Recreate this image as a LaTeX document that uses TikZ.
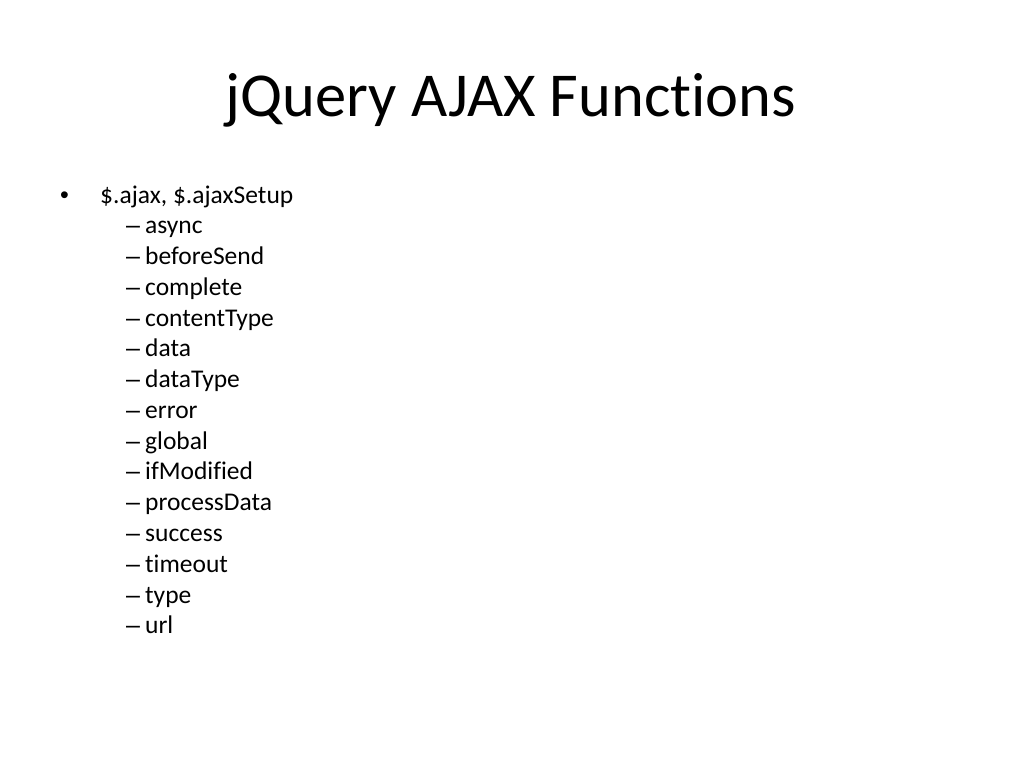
\documentclass[tikz,border=0pt]{standalone}
\usepackage{fontspec}
\setmainfont[Ligatures={NoCommon}]{Carlito}
\newfontfamily\symfont{Liberation Sans}
\begin{document}
\begin{tikzpicture}[x=1pt,y=-1pt,
  titlestyle/.style={anchor=base,inner sep=0pt,font=\fontsize{62.5}{66}\selectfont},
  bodystyle/.style={anchor=base west,inner sep=0pt,font=\fontsize{25.5}{30}\selectfont},
  markstyle/.style={anchor=base west,inner sep=0pt,font=\fontsize{25}{30}\symfont}]
\useasboundingbox[fill=white] (0,0) rectangle (1024,768);
\node[titlestyle] (title) at (511,116) {jQuery AJAX Functions};
\node[markstyle] (b0) at (60,203) {•};
\node[bodystyle] (t0) at (100,203) {\$.ajax, \$.ajaxSetup};
\foreach \txt [count=\i] in {async,beforeSend,complete,contentType,data,dataType,error,global,ifModified,processData,success,timeout,type,url}{
  \node[markstyle] (d\i) at (126,203+\i*30.77) {–};
  \node[bodystyle] (s\i) at (145,203+\i*30.77) {\txt};
}
\end{tikzpicture}
\end{document}
